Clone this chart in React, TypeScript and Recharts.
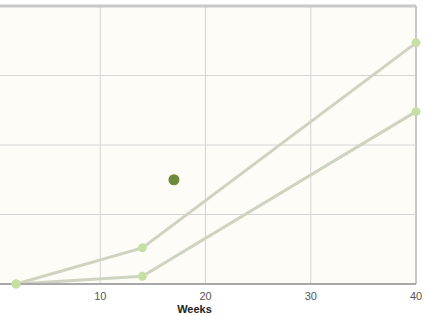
import React from "react";
import {
  ComposedChart,
  Line,
  Scatter,
  XAxis,
  YAxis,
  CartesianGrid,
  ReferenceLine,
} from "recharts";

const upperWeeks = [2, 14, 40];
const upperValues = [0, 52, 347];
const lowerWeeks = [2, 14, 40];
const lowerValues = [0, 11, 248];
const markerWeeks = [17];
const markerValues = [150];
const xTicks = [10, 20, 30, 40];
const yTicks = [0, 100, 200, 300, 400];

const upper = upperWeeks.map((w, i) => ({ week: w, value: upperValues[i] }));
const lower = lowerWeeks.map((w, i) => ({ week: w, value: lowerValues[i] }));
const marker = markerWeeks.map((w, i) => ({ week: w, value: markerValues[i] }));

const WeeksLabel = (props: any) => {
  const { viewBox } = props;
  const x = viewBox.x + viewBox.width / 2 - 11;
  return (
    <text
      x={x}
      y={313}
      textAnchor="middle"
      fontSize={11}
      fontWeight="bold"
      fill="#222"
      fontFamily="Liberation Sans, Arial, sans-serif"
    >
      Weeks
    </text>
  );
};

const App = () => {
  return (
    <div style={{ position: "absolute", top: 0, left: -5 }}>
      <ComposedChart
        width={432}
        height={315}
        margin={{ top: 6, right: 11, bottom: 0, left: 0 }}
      >
        <CartesianGrid
          stroke="#d4d4d4"
          fill="#fdfcf7"
          verticalValues={xTicks}
          horizontalValues={yTicks}
        />
        <XAxis
          dataKey="week"
          type="number"
          domain={[0, 40]}
          ticks={xTicks}
          tickLine={false}
          height={31}
          stroke="#a8a8a8"
          strokeWidth={2}
          tick={{ fill: "#555", fontSize: 11, fontFamily: "Liberation Sans, Arial, sans-serif" }}
          label={<WeeksLabel />}
        />
        <YAxis type="number" domain={[0, 400]} ticks={yTicks} hide />
        <ReferenceLine y={400} stroke="#c8c8c8" strokeWidth={3} />
        <ReferenceLine x={40} stroke="#c8c8c8" strokeWidth={2} />
        <Line
          data={upper}
          dataKey="value"
          type="linear"
          stroke="#cfd3c1"
          strokeWidth={3}
          dot={{ r: 4.5, fill: "#c6e0a3", stroke: "#c6e0a3", strokeWidth: 0 }}
          isAnimationActive={false}
        />
        <Line
          data={lower}
          dataKey="value"
          type="linear"
          stroke="#cfd3c1"
          strokeWidth={3}
          dot={{ r: 4.5, fill: "#c6e0a3", stroke: "#c6e0a3", strokeWidth: 0 }}
          isAnimationActive={false}
        />
        <Scatter
          data={marker}
          dataKey="value"
          fill="#6e8a3a"
          shape={(p: any) => <circle cx={p.cx} cy={p.cy} r={5.5} fill="#6e8a3a" />}
          isAnimationActive={false}
        />
      </ComposedChart>
    </div>
  );
};

export default App;
